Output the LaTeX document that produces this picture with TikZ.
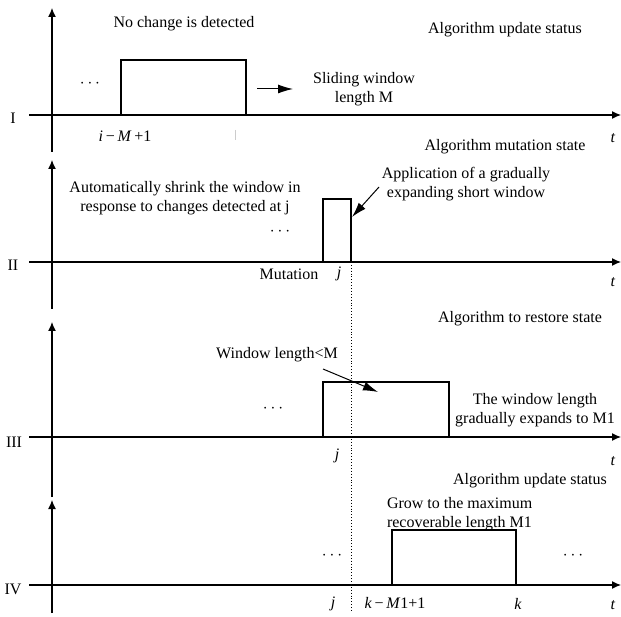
\documentclass[tikz,border=0pt]{standalone}
\usepackage{fontspec}
\setmainfont{Liberation Serif}
\usetikzlibrary{arrows.meta}

\begin{document}
\begin{tikzpicture}
            [>={Latex[length=9pt,width=8pt]}, x=1pt, y=-1pt, line width=1.2pt,
             every node/.style={font=\fontsize{16}{19}\selectfont, inner sep=0pt, outer sep=0pt},
             win/.style={draw, line width=1.1pt, minimum height=55pt, anchor=south west},
             note/.style={-{Latex[length=15pt,width=9pt]}, line width=1pt},
             tag/.style={anchor=base},
             lines/.style={align=center}]
            \useasboundingbox (0,0) rectangle (621,617);

            \coordinate (y1s) at (52,152);
            \coordinate (y1e) at (52,8);
            \coordinate (x1s) at (29,115);
            \coordinate (x1e) at (621,115);
            \path [->] (y1s) edge (y1e);
            \path [->] (x1s) edge (x1e);
            \node[tag] (n1) at (13,124) {I};
            \node[win, minimum width=125pt] (w1) at (121,115) {};
            \node (d1) at (90,84) {$\cdots$};
            \node[tag] (i1) at (125,142) {\textit{i}\,−\,\textit{M}\,+1};
            \node[tag] (t1) at (613,143) {\textit{t}};
            \node[tag] (nochange) at (184,28) {No change is detected};
            \node[tag] (status1) at (505,34) {Algorithm update status};
            \node[lines] (slide) at (364,89) {Sliding window\\length M};
            \coordinate (s1) at (257,89);
            \coordinate (s2) at (293,89);
            \path [note] (s1) edge (s2);
            \coordinate (tk1) at (235,130);
            \coordinate (tk2) at (235,140);
            \path [draw=gray!40, line width=0.6pt] (tk1) edge (tk2);

            \coordinate (y2s) at (52,309);
            \coordinate (y2e) at (52,160);
            \coordinate (x2s) at (29,262);
            \coordinate (x2e) at (621,262);
            \path [->] (y2s) edge (y2e);
            \path [->] (x2s) edge (x2e);
            \node[tag] (n2) at (13,271) {II};
            \node[win, minimum width=28pt, minimum height=63pt] (w2) at (323,262) {};
            \node (d2) at (280,232) {$\cdots$};
            \node[tag] (mut) at (289,280) {Mutation};
            \node[tag] (j2) at (339,278) {\textit{j}};
            \node[tag] (t2) at (613,287) {\textit{t}};
            \node[tag] (status2) at (505,151) {Algorithm mutation state};
            \node[lines] (shrink) at (185,198) {Automatically shrink the window in\\response to changes detected at j};
            \node[lines] (apply) at (466,184) {Application of a gradually\\expanding short window};
            \coordinate (a1) at (379,187);
            \coordinate (a2) at (352,217);
            \path [note] (a1) edge (a2);

            \coordinate (y3s) at (52,497);
            \coordinate (y3e) at (52,322);
            \coordinate (x3s) at (29,437);
            \coordinate (x3e) at (621,437);
            \path [->] (y3s) edge (y3e);
            \path [->] (x3s) edge (x3e);
            \node[tag] (n3) at (14,447) {III};
            \node[win, minimum width=126pt] (w3) at (323,437) {};
            \node (d3) at (273,409) {$\cdots$};
            \node[tag] (j3) at (337,459) {\textit{j}};
            \node[tag] (t3) at (613,465) {\textit{t}};
            \node[tag] (status3) at (520,323) {Algorithm to restore state};
            \node[tag] (shorter) at (277,359) {Window length<M};
            \node[lines] (expand) at (535,410) {The window length\\gradually expands to M1};
            \coordinate (b1) at (323,369);
            \coordinate (b2) at (378,392);
            \path [note] (b1) edge (b2);

            \coordinate (y4s) at (52,613);
            \coordinate (y4e) at (52,500);
            \coordinate (x4s) at (29,585);
            \coordinate (x4e) at (621,585);
            \path [->] (y4s) edge (y4e);
            \path [->] (x4s) edge (x4e);
            \node[tag] (n4) at (13,594) {IV};
            \node[win, minimum width=124pt] (w4) at (392,585) {};
            \node (d4) at (332,556) {$\cdots$};
            \node (d5) at (573,556) {$\cdots$};
            \node[tag] (j4) at (333,607) {\textit{j}};
            \node[tag] (km) at (395,608) {\textit{k}\,−\,\textit{M}1+1};
            \node[tag] (k4) at (518,609) {\textit{k}};
            \node[tag] (t4) at (613,609) {\textit{t}};
            \node[tag] (status4) at (530,484) {Algorithm update status};
            \node[align=left, anchor=west] (grow) at (387,514) {Grow to the maximum\\recoverable length M1};

            \coordinate (dotend) at (351,612);
            \path [dotted, line width=0.9pt] (w2.south east) edge (dotend);
        \end{tikzpicture}
\end{document}
